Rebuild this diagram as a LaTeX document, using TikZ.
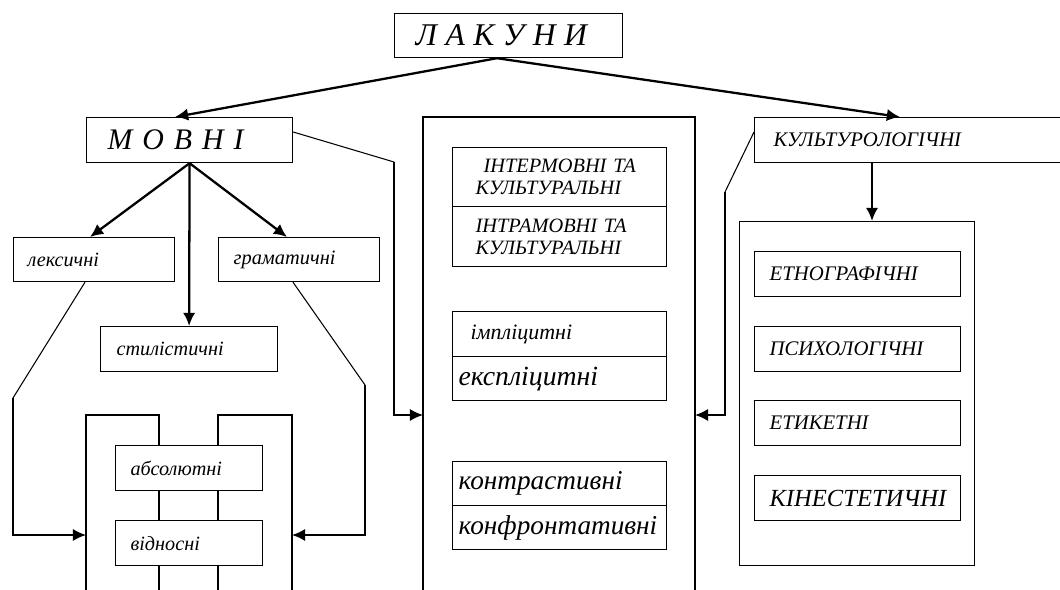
\documentclass[tikz,border=0pt]{standalone}
\usepackage{fontspec}
\setmainfont{Liberation Serif}
\usetikzlibrary{arrows.meta,positioning,calc}

\tikzset{
  cell/.style={draw, line width=0.7pt, anchor=north west, inner ysep=0pt, align=left},
  arr/.style={line width=1.3pt, -{Latex[length=7.5pt,width=7pt]}},
  thinline/.style={line width=0.6pt},
  ladder/.style={line width=1pt}
}

\begin{document}
\begin{tikzpicture}[x=0.02cm, y=-0.02cm]
  \useasboundingbox (0,0) rectangle (1060,590);

  % top level
  \node[cell, text width=3.72cm, inner xsep=0.42cm, minimum height=0.88cm,
        font=\itshape\fontsize{18}{22}\selectfont] (lak) at (394,13)
        {\raisebox{-2.3pt}{Л\kern0.27emА\kern0.27emК\kern0.27emУ\kern0.27emН\kern0.27emИ}};
  \node[cell, text width=3.28cm, inner xsep=0.42cm, minimum height=0.9cm,
        font=\itshape\fontsize{17}{22}\selectfont] (movni) at (86,117)
        {\raisebox{-2.5pt}{М~О~В~Н~І}};
  \node[cell, text width=5.42cm, inner xsep=0.38cm, minimum height=0.9cm,
        font=\itshape\fontsize{11.8}{14}\selectfont] (kult) at (754,117) {КУЛЬТУРОЛОГІЧНІ};

  % movni branch
  \node[cell, text width=2.66cm, inner xsep=0.28cm, minimum height=0.88cm,
        font=\itshape\fontsize{11.5}{14}\selectfont] (leks) at (13,237) {лексичні};
  \node[cell, text width=2.62cm, inner xsep=0.3cm, minimum height=0.88cm,
        font=\itshape\fontsize{11.6}{14}\selectfont] (gram) at (218,237) {граматичні};
  \node[cell, text width=2.9cm, inner xsep=0.32cm, minimum height=0.9cm,
        font=\itshape\fontsize{11.5}{14}\selectfont] (styl) at (100,326) {стилістичні};
  \node[cell, text width=2.34cm, inner xsep=0.3cm, minimum height=0.9cm,
        font=\itshape\fontsize{11.5}{14}\selectfont] (abs) at (115,445) {абсолютні};
  \node[cell, text width=2.34cm, inner xsep=0.3cm, minimum height=0.9cm,
        font=\itshape\fontsize{11.5}{14}\selectfont] (vidn) at (115,520) {відносні};

  % middle column
  \node[cell, text width=3.36cm, inner xsep=0.46cm, minimum height=1.18cm,
        font=\itshape\fontsize{11.6}{12.5}\selectfont] (inter) at (452,147) {\hspace*{0.16cm}ІНТЕРМОВНІ ТА\\КУЛЬТУРАЛЬНІ};
  \node[cell, text width=3.36cm, inner xsep=0.46cm, minimum height=1.2cm,
        font=\itshape\fontsize{11.6}{12.5}\selectfont] (intra) at (452,206) {ІНТРАМОВНІ ТА\\КУЛЬТУРАЛЬНІ};
  \node[cell, text width=3.56cm, inner xsep=0.36cm, minimum height=0.9cm,
        font=\itshape\fontsize{12.5}{14}\selectfont] (impl) at (452,311) {імпліцитні};
  \node[cell, text width=4.04cm, inner xsep=0.12cm, minimum height=0.88cm,
        font=\itshape\fontsize{15.8}{18}\selectfont] (ekspl) at (452,356) {експліцитні};
  \node[cell, text width=4.04cm, inner xsep=0.12cm, minimum height=0.88cm,
        font=\itshape\fontsize{15.5}{18}\selectfont] (kontr) at (452,461) {контрастивні};
  \node[cell, text width=4.04cm, inner xsep=0.12cm, minimum height=0.88cm,
        font=\itshape\fontsize{15.5}{18}\selectfont] (konfr) at (452,505) {конфронтативні};

  % right column
  \node[draw, line width=0.7pt, anchor=north west, minimum width=4.7cm,
        minimum height=6.88cm] (frame) at (739,221) {};
  \node[cell, text width=3.52cm, inner xsep=0.3cm, minimum height=0.9cm,
        font=\itshape\fontsize{11.8}{13}\selectfont] (etno) at (754,251) {ЕТНОГРАФІЧНІ};
  \node[cell, text width=3.52cm, inner xsep=0.3cm, minimum height=0.9cm,
        font=\itshape\fontsize{11.8}{13}\selectfont] (psych) at (754,326) {ПСИХОЛОГІЧНІ};
  \node[cell, text width=3.52cm, inner xsep=0.3cm, minimum height=0.9cm,
        font=\itshape\fontsize{11.8}{13}\selectfont] (etyk) at (754,400) {ЕТИКЕТНІ};
  \node[cell, text width=3.52cm, inner xsep=0.3cm, minimum height=0.9cm,
        font=\itshape\fontsize{14}{16}\selectfont] (kines) at (754,475) {КІНЕСТЕТИЧНІ};

  % open frames
  \draw[thinline] (423,590) |- (695,117) -- (695,590);
  \coordinate (midin) at (423,415);
  \coordinate (midout) at (695,415);
  \coordinate (ladin) at (86,535);
  \coordinate (ladout) at (292,535);

  \draw[ladder] (86,590) |- ($(abs.north west)+(44,-30)$) -- ($(abs.north west)+(44,0)$);
  \draw[ladder] ($(abs.south west)+(44,0)$) -- ($(vidn.north west)+(44,0)$);
  \draw[ladder] ($(vidn.south west)+(44,0)$) -- (159,590);
  \draw[ladder] (292,590) |- ($(abs.north west)+(103,-30)$) -- ($(abs.north west)+(103,0)$);
  \draw[ladder] ($(abs.south west)+(103,0)$) -- ($(vidn.north west)+(103,0)$);
  \draw[ladder] ($(vidn.south west)+(103,0)$) -- (218,590);

  % arrows
  \draw[arr] ($(lak.south west)+(103,0)$) -- ($(movni.north west)+(89,0)$);
  \draw[arr] ($(lak.south west)+(103,0)$) -- ($(kult.north west)+(146,0)$);
  \draw[arr] (movni.south) -- ($(leks.north west)+(77,0)$);
  \draw[arr] (movni.south) -- ($(gram.north west)+(69,0)$);
  \draw[arr] (movni.south) -- (styl.north);
  \draw[arr] ($(kult.south west)+(118,0)$) -- ($(frame.north west)+(133,0)$);

  \draw[thinline] ($(movni.north east)+(0,15)$) -- (394,162);
  \draw[arr, line width=1pt] (394,162) -- (394,415) -- (midin);
  \draw[thinline] ($(kult.north west)+(0,15)$) -- (725,192);
  \draw[arr, line width=1pt] (725,192) -- (725,415) -- (midout);

  \draw[thinline] ($(leks.south west)+(72,0)$) -- (13,398);
  \draw[arr, line width=1pt] (13,398) |- (ladin);
  \draw[thinline] ($(gram.south west)+(75,0)$) -- (365,385);
  \draw[arr, line width=1pt] (365,385) |- (ladout);
\end{tikzpicture}
\end{document}
